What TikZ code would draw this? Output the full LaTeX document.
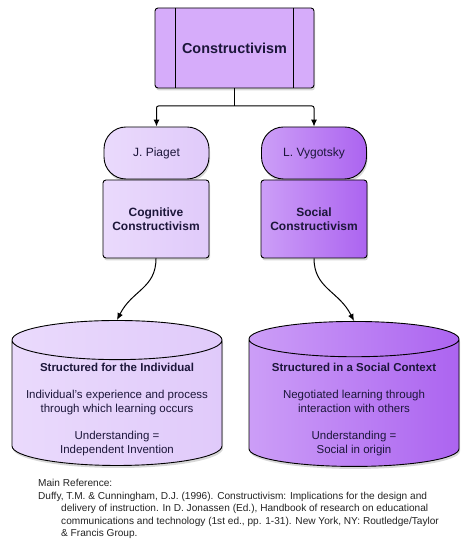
\documentclass[tikz,border=0pt]{standalone}
\usepackage{fontspec}
\setmainfont{Liberation Sans}
\usetikzlibrary{shapes.geometric,arrows.meta,shadows}

\begin{document}
\begin{tikzpicture}[x=1pt,y=1pt,
  shade box/.style={draw=black,line width=0.9pt,align=center,inner sep=0pt,text=textColor,
    drop shadow={shadow xshift=1pt,shadow yshift=-2.5pt,opacity=0.3}},
  top box/.style={shade box,rounded corners=3pt,fill=topColor,minimum width=159pt,minimum height=80pt,
    font=\bfseries\fontsize{14.4}{17}\selectfont},
  person/.style={shade box,rounded corners=22pt,minimum width=105pt,minimum height=52pt,
    font=\fontsize{12}{14}\selectfont},
  theory/.style={shade box,rounded corners=3pt,minimum width=106pt,minimum height=78pt,
    font=\bfseries\fontsize{12}{14.5}\selectfont},
  store/.style={shade box,cylinder,shape border rotate=90,aspect=0.215,minimum width=210pt,minimum height=145pt,
    font=\fontsize{11.5}{14}\selectfont},
  light/.style={shading angle=135,left color=lightA,right color=lightB},
  dark/.style={left color=darkA,right color=darkB},
  link/.style={draw=black,line width=1pt,-{Latex[length=7pt,width=6pt]}}]
\definecolor{textColor}{RGB}{28,22,58}
\definecolor{topColor}{RGB}{214,172,250}
\definecolor{lightA}{RGB}{234,218,252}
\definecolor{lightB}{RGB}{224,202,250}
\definecolor{darkA}{RGB}{204,158,247}
\definecolor{darkB}{RGB}{172,100,240}
\definecolor{refColor}{RGB}{35,35,35}
\path[use as bounding box,fill=white] (0,0) rectangle (474,545);

% top of the tree
\node[top box] (constr) at (234.5,497) {Constructivism};
\draw[line width=0.9pt] ([xshift=21pt]constr.north west) -- ([xshift=21pt]constr.south west);
\draw[line width=0.9pt] ([xshift=-21pt]constr.north east) -- ([xshift=-21pt]constr.south east);

% the two theorists
\node[person,light] (piaget) at (156.5,392) {J. Piaget};
\node[person,dark] (vygotsky) at (314,392) {L. Vygotsky};

\node[theory,light] (cognitive) at (156,326) {Cognitive\\Constructivism};
\node[theory,dark] (social) at (314,326) {Social\\Constructivism};

% learning
\node[store,light] (individual) at (117,142) {\raisebox{-10pt}[30pt][30pt]{%
  \begin{tabular}{@{}c@{}}
  \textbf{Structured for the Individual}\\[13pt]
  Individual's experience and process\\through which learning occurs\\[13pt]
  Understanding =\\Independent Invention
  \end{tabular}}};
\node[store,dark] (context) at (354,142) {\raisebox{-10pt}[30pt][30pt]{%
  \begin{tabular}{@{}c@{}}
  \textbf{Structured in a Social Context}\\[13pt]
  Negotiated learning through\\interaction with others\\[13pt]
  Understanding =\\Social in origin
  \end{tabular}}};

\coordinate (split) at (constr.south |- 0,439);
\draw[line width=1pt] (constr.south) -- (split);
\draw[link,rounded corners=2pt] (split) -| (piaget.north);
\draw[link,rounded corners=2pt] (split) -| (vygotsky.north);

\draw[link] (cognitive.south) .. controls +(0,-30) and +(15,30) .. (individual.north);
\draw[link] (social.south) .. controls +(0,-30) and +(-15,30) .. (context.north);

% reference
\node[text=refColor,anchor=north west,align=left,inner sep=0pt,
  font=\fontsize{10.1}{12.5}\selectfont] (ref) at (38,66) {%
  Main Reference:\\
  Duffy, T.M. \& Cunningham, D.J. (1996). Constructivism: Implications for the design and\\
  \hspace*{23pt}delivery of instruction. In D. Jonassen (Ed.), Handbook of research on educational\\
  \hspace*{23pt}communications and technology (1st ed., pp. 1-31). New York, NY: Routledge/Taylor\\
  \hspace*{23pt}\& Francis Group.};
\end{tikzpicture}
\end{document}
